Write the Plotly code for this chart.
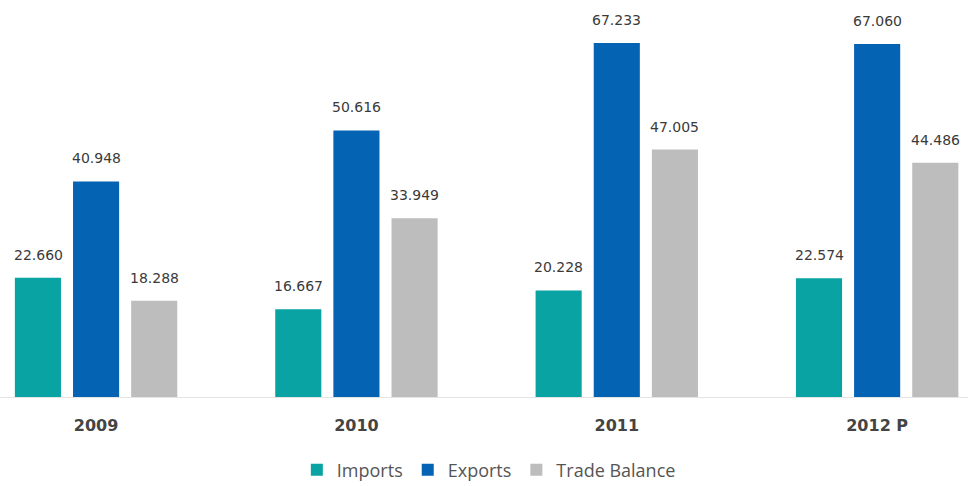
import plotly.graph_objects as go

years = ["2009", "2010", "2011", "2012 P"]
imports = [22.660, 16.667, 20.228, 22.574]
exports = [40.948, 50.616, 67.233, 67.060]
balance = [18.288, 33.949, 47.005, 44.486]

series = [
    ("Imports", imports, "#0aa3a3"),
    ("Exports", exports, "#0563b3"),
    ("Trade Balance", balance, "#bdbdbd"),
]

fig = go.Figure()
for name, vals, color in series:
    fig.add_trace(go.Bar(
        name=name, x=years, y=vals,
        marker=dict(color=color, line=dict(width=0)),
    ))

# value labels above each bar, shifted to the bar's slot in the group
slot_px = 58
annotations = []
for i, (name, vals, color) in enumerate(series):
    for k, v in enumerate(vals):
        annotations.append(dict(
            x=k, y=v, text=f"{v:.3f}", showarrow=False,
            xref="x", yref="y", xanchor="center", yanchor="bottom",
            xshift=(i - 1) * slot_px, yshift=13,
            font=dict(family="DejaVu Sans", size=14, color="#3a3a3a"),
        ))

fig.update_layout(
    width=968, height=486,
    margin=dict(l=0, r=0, t=0, b=89, autoexpand=False),
    paper_bgcolor="white", plot_bgcolor="white",
    barmode="group", bargap=0.33, bargroupgap=0.207,
    annotations=annotations,
    showlegend=True,
    legend=dict(
        orientation="h", x=0.505, xanchor="center", y=-0.184, yanchor="middle",
        font=dict(family="Open Sans", size=18, color="#555555"),
        traceorder="normal",
    ),
    xaxis=dict(
        type="category", automargin=False,
        range=[-0.369, 3.349], showgrid=False, zeroline=False,
        showline=True, linecolor="#e4e4e4", linewidth=1,
        ticks="", ticklabelstandoff=14,
        tickfont=dict(family="DejaVu Sans", size=16, color="#444444", weight="bold"),
    ),
    yaxis=dict(range=[0, 75.4], visible=False, showgrid=False, zeroline=False),
)

fig.write_html("out.html")
